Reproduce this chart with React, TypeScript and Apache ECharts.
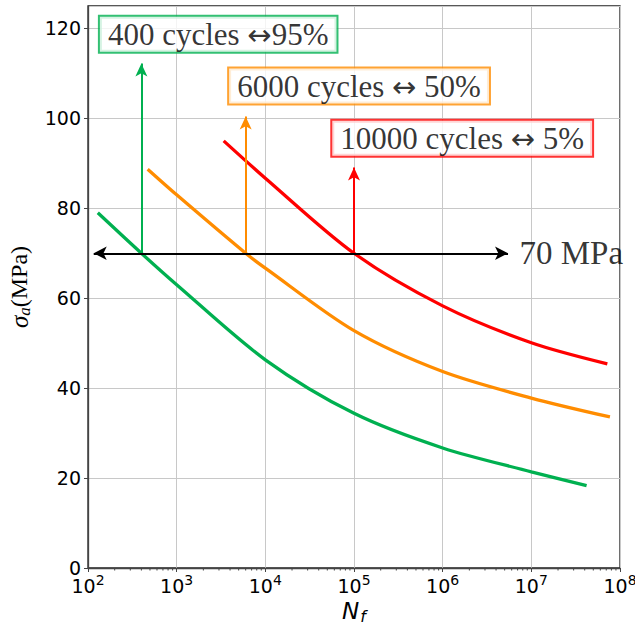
import React, { useEffect, useRef } from 'react';
import * as echarts from 'echarts';

// S-N curves (cycles to failure, stress amplitude in MPa)
const greenN = [129, 400, 1000, 10000, 100000, 1000000, 10000000, 42000000];
const greenS = [79, 70, 63.0, 46.3, 34.4, 26.7, 21.4, 18.3];
const orangeN = [471, 1000, 6000, 10000, 100000, 1000000, 10000000, 77000000];
const orangeS = [88.7, 83.0, 70, 66.7, 52.8, 43.7, 37.8, 33.6];
const redN = [3390, 10000, 100000, 1000000, 10000000, 72000000];
const redS = [95.0, 86.7, 70, 58.3, 50.1, 45.4];

// arrows: [N, from stress, to stress]
const stressLevel = 70;
const arrowN = [400, 6000, 100000];
const arrowTop = [112.2, 100.4, 89.1];
const hArrowN = [116, 5460000];

// annotations: [left text, right text]
const labelLeft = ['400 cycles ', '6000 cycles ', '10000 cycles '];
const labelRight = ['95%', ' 50%', ' 5%'];
const labelN = [2940, 114000, 1660000];
const labelS = [118.7, 107.2, 95.6];
const stressText = '70 MPa';
const stressTextN = 7350000;

// axis ticks
const xExponents = [2, 3, 4, 5, 6, 7, 8];
const minorMultipliers = [2, 3, 4, 5, 6, 7, 8, 9];
const yMin = 0;
const yMax = 125;
const yInterval = 20;

const colors = ['#00b050', '#ff8c00', '#ff0000'];
const SERIF = "'Liberation Serif', 'DejaVu Serif', serif";
const SANS = "'DejaVu Sans', sans-serif";

export default function App() {
  const ref = useRef<HTMLDivElement>(null);
  useEffect(() => {
    if (!ref.current) return;
    const chart = echarts.init(ref.current, undefined, { renderer: 'svg' });

    const zip = (a: number[], b: number[]) => a.map((v, i) => [v, b[i]]);
    const curves = [zip(greenN, greenS), zip(orangeN, orangeS), zip(redN, redS)];

    const minorTicks: number[][] = [];
    xExponents.slice(0, -1).forEach((e) => {
      minorMultipliers.forEach((m) => minorTicks.push([m * Math.pow(10, e), 0]));
    });

    const option: any = {
      animation: false,
      grid: {
        left: 88,
        right: 15,
        top: 6,
        bottom: 57,
        show: true,
        borderColor: '#222',
        borderWidth: 1.3,
        backgroundColor: 'transparent',
        containLabel: false,
        outerBoundsMode: 'none',
      },
      xAxis: {
        type: 'log',
        logBase: 10,
        min: Math.pow(10, xExponents[0]),
        max: Math.pow(10, xExponents[xExponents.length - 1]),
        name: '{n|N}{f|f}',
        nameLocation: 'middle',
        nameGap: 21,
        nameTextStyle: {
          rich: {
            n: { fontFamily: SANS, fontStyle: 'italic', fontSize: 23, color: '#000', lineHeight: 26 },
            f: {
              fontFamily: SANS,
              fontStyle: 'italic',
              fontSize: 16,
              color: '#000',
              verticalAlign: 'bottom',
              lineHeight: 18,
              padding: [0, 0, 0, 1],
            },
          },
        },
        axisLine: { show: true, lineStyle: { color: '#444', width: 1.3 } },
        axisTick: { show: true, inside: false, length: 4, lineStyle: { color: '#444', width: 1 } },
        minorTick: { show: false },
        splitLine: { show: true, lineStyle: { color: '#c8c8c8', width: 1 } },
        axisLabel: {
          margin: 5,
          formatter: (v: number) => `{b|10}{s|${Math.round(Math.log10(v))}}`,
          rich: {
            b: { fontFamily: SANS, fontSize: 19, color: '#000', lineHeight: 25 },
            s: {
              fontFamily: SANS,
              fontSize: 14,
              color: '#000',
              verticalAlign: 'top',
              lineHeight: 14,
            },
          },
        },
      },
      yAxis: {
        type: 'value',
        min: yMin,
        max: yMax,
        interval: yInterval,
        name: '{i|σ}{a|a}{r|(MPa)}',
        nameLocation: 'middle',
        nameRotate: 90,
        nameGap: 55,
        nameTextStyle: {
          rich: {
            i: { fontFamily: SERIF, fontStyle: 'italic', fontSize: 25, color: '#000' },
            a: {
              fontFamily: SERIF,
              fontStyle: 'italic',
              fontSize: 17,
              color: '#000',
              verticalAlign: 'bottom',
              padding: [11, 0, 0, 0],
            },
            r: { fontFamily: SERIF, fontSize: 24, color: '#000' },
          },
        },
        axisLine: { show: true, lineStyle: { color: '#444', width: 1.3 } },
        axisTick: { show: true, inside: false, length: 4, lineStyle: { color: '#444', width: 1 } },
        splitLine: { show: true, lineStyle: { color: '#c8c8c8', width: 1 } },
        axisLabel: {
          margin: 7,
          showMaxLabel: false,
          fontFamily: SANS,
          fontSize: 19,
          color: '#000',
        },
      },
      series: [
        ...curves.map((d, i) => ({
          type: 'line',
          data: d,
          smooth: 0.3,
          showSymbol: false,
          symbol: 'none',
          lineStyle: { color: colors[i], width: 3.3 },
          z: 3,
          silent: true,
        })),
        {
          type: 'line',
          data: [],
          z: 4,
          silent: true,
          markLine: {
            silent: true,
            symbol: ['none', 'arrow'],
            symbolSize: [9, 13],
            label: { show: false },
            emphasis: { disabled: true },
            data: arrowN.map((n, i) => [
              { coord: [n, stressLevel], lineStyle: { color: colors[i], width: 2, type: 'solid' }, itemStyle: { color: colors[i] } },
              { coord: [n, arrowTop[i]] },
            ]),
          },
        },
        {
          type: 'line',
          data: [],
          z: 5,
          silent: true,
          markLine: {
            silent: true,
            symbol: ['arrow', 'arrow'],
            symbolSize: [10, 13],
            label: { show: false },
            emphasis: { disabled: true },
            lineStyle: { color: '#000', width: 2, type: 'solid' },
            itemStyle: { color: '#000' },
            data: [[{ coord: [hArrowN[0], stressLevel] }, { coord: [hArrowN[1], stressLevel] }]],
          },
        },
        {
          type: 'custom',
          data: minorTicks,
          silent: true,
          clip: false,
          z: 6,
          renderItem: (params: any, api: any) => {
            const p = api.coord([api.value(0), yMin]);
            return {
              type: 'line',
              shape: { x1: p[0], y1: p[1], x2: p[0], y2: p[1] + 2.5 },
              style: { stroke: '#444', lineWidth: 1 },
            };
          },
        },
        {
          type: 'scatter',
          symbolSize: 0,
          silent: true,
          z: 10,
          data: labelLeft.map((t, i) => ({
            value: [labelN[i], labelS[i]],
            label: {
              show: true,
              position: 'inside',
              formatter: `{t|${t}}{ar|↔}{t|${labelRight[i]}}`,
              backgroundColor: '#fff',
              borderColor: colors[i],
              borderWidth: 2,
              padding: [2, 8, 1, 8],
              rich: {
                t: { fontFamily: SERIF, fontSize: 31, color: '#000', lineHeight: 32 },
                ar: { fontFamily: SANS, fontSize: 29, color: '#000', lineHeight: 32 },
              },
            },
          })),
        },
        {
          type: 'scatter',
          symbolSize: 0,
          silent: true,
          z: 10,
          data: [
            {
              value: [stressTextN, stressLevel],
              label: {
                show: true,
                position: [0, 0],
                align: 'left',
                verticalAlign: 'middle',
                formatter: stressText,
                fontFamily: SERIF,
                fontSize: 33,
                color: '#000',
              },
            },
          ],
        },
      ],
    };
    chart.setOption(option);
    return () => chart.dispose();
  }, []);
  return <div ref={ref} style={{ width: 635, height: 625, position: 'absolute', left: 0, top: 0 }} />;
}
